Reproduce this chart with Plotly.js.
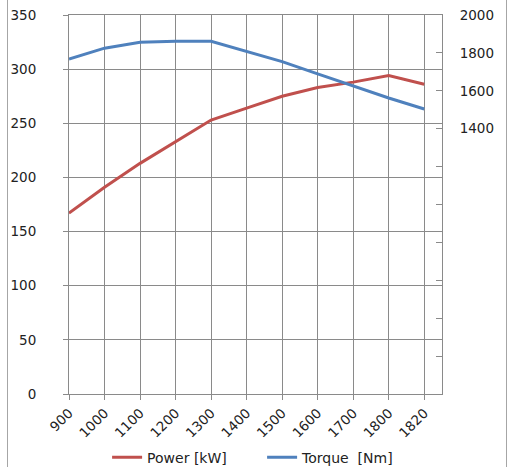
<!DOCTYPE html>
<html><head><meta charset="utf-8">
<script src="https://cdn.plot.ly/plotly-3.0.1.min.js"></script>
<style>
html,body{margin:0;padding:0;background:#fff;}
#wrap{position:relative;width:510px;height:467px;}
#chart{width:510px;height:467px;}
#bl{position:absolute;left:7px;top:0;width:1px;height:467px;background:#a6a6a6;}
#br{position:absolute;left:506px;top:0;width:1px;height:467px;background:#a6a6a6;}
</style></head>
<body><div id="wrap"><div id="chart"></div><div id="bl"></div><div id="br"></div></div>
<script>
const categories = ["900","1000","1100","1200","1300","1400","1500","1600","1700","1800","1820"];
const powerKW = [167, 191, 213, 233, 253, 264, 275, 283, 288, 294, 286];
const torqueNm = [1768, 1825, 1856, 1861, 1861, 1808, 1754, 1689, 1626, 1562, 1504];
const leftTicks = [0, 50, 100, 150, 200, 250, 300, 350];
const rightTicks = [0, 200, 400, 600, 800, 1000, 1200, 1400, 1600, 1800, 2000];
const rightLabels = ["", "", "", "", "", "", "", "1400", "1600", "1800", "2000"];

const idx = categories.map((c, i) => i);
const fam = "DejaVu Sans, Verdana, sans-serif";
const tf = {family: fam, size: 13.5, color: "#222"};
const lf = {family: fam, size: 14, color: "#222"};
const grid = "#8a8a8a";

const traces = [
  {x: idx, y: powerKW, type: "scatter", mode: "lines", name: "Power [kW]",
   line: {color: "#C0504D", width: 3}, yaxis: "y"},
  {x: idx, y: torqueNm, type: "scatter", mode: "lines", name: "Torque&nbsp;&nbsp;[Nm]",
   line: {color: "#4F81BD", width: 3}, yaxis: "y2"}
];

const layout = {
  width: 510, height: 467,
  margin: {l: 69, r: 68, t: 15, b: 73},
  paper_bgcolor: "#fff", plot_bgcolor: "#fff",
  font: tf,
  showlegend: true,
  legend: {orientation: "h", xref: "container", yref: "container",
           x: 0.21, xanchor: "left", y: 0.02, yanchor: "middle",
           font: lf, tracegroupgap: 0, bgcolor: "rgba(0,0,0,0)", entrywidth: 110},
  xaxis: {
    range: [0, 10.5], tickmode: "array", tickvals: idx, ticktext: categories,
    tickangle: -45, showgrid: true, gridcolor: grid, gridwidth: 1, automargin: false,
    showline: true, linecolor: grid, linewidth: 1, mirror: true,
    ticks: "outside", ticklen: 5, tickcolor: grid, zeroline: false, tickfont: tf
  },
  yaxis: {
    range: [0, 350], tickmode: "array", tickvals: leftTicks, automargin: false,
    showgrid: true, gridcolor: grid, gridwidth: 1,
    showline: true, linecolor: grid, linewidth: 1,
    ticks: "outside", ticklen: 5, tickcolor: grid, zeroline: false,
    tickfont: tf, ticklabelstandoff: 24
  },
  yaxis2: {
    range: [0, 2000], overlaying: "y", side: "right", tickmode: "array", automargin: false,
    tickvals: rightTicks, ticktext: rightLabels, showgrid: false,
    showline: true, linecolor: grid, linewidth: 1,
    ticks: "inside", ticklen: 6, tickcolor: grid, zeroline: false,
    tickfont: tf, ticklabelstandoff: 14
  }
};

Plotly.newPlot("chart", traces, layout, {displayModeBar: false, staticPlot: true});
</script></body></html>
